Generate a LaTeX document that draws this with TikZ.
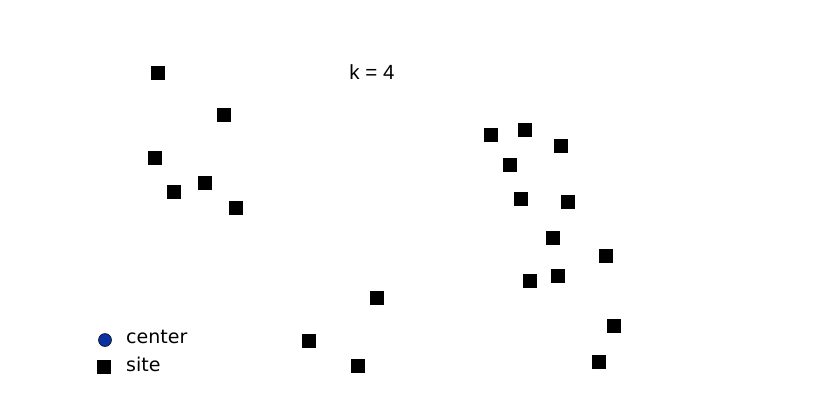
\documentclass[tikz,border=0pt]{standalone}
\usepackage{fontspec}
\setmainfont{DejaVu Sans}
\newfontfamily\titlefont{Liberation Sans}
\definecolor{cblue}{RGB}{10,50,160}
\begin{document}
\begin{tikzpicture}[x=1pt,y=-1pt,
  site/.style={fill=black,minimum size=14.5pt,inner sep=0pt,draw=none,rectangle},
  centre/.style={circle,fill=cblue,draw=black,line width=0.5pt,minimum size=13pt,inner sep=0pt},
  lbl/.style={font=\fontsize{19}{21}\selectfont,anchor=west,inner sep=0pt}]
\useasboundingbox (0,0) rectangle (832,410);
% title
\node[font=\titlefont\fontsize{20.5}{22}\selectfont,anchor=base,inner sep=0pt] (title) at (372,79) {k = 4};
% left cluster
\node[site] (s1) at (158,73) {};
\node[site] (s2) at (224,115) {};
\node[site] (s3) at (155,158) {};
\node[site] (s4) at (174,192) {};
\node[site] (s5) at (205,183) {};
\node[site] (s6) at (236,208) {};
% right cluster
\node[site] (s7) at (491,135) {};
\node[site] (s8) at (525,130) {};
\node[site] (s9) at (561,146) {};
\node[site] (s10) at (510,165) {};
\node[site] (s11) at (521,199) {};
\node[site] (s12) at (568,202) {};
\node[site] (s13) at (553,238) {};
\node[site] (s14) at (606,256) {};
\node[site] (s15) at (530,281) {};
\node[site] (s16) at (558,276) {};
\node[site] (s17) at (614,326) {};
\node[site] (s18) at (599,362) {};
% bottom middle
\node[site] (s19) at (377,298) {};
\node[site] (s20) at (309,341) {};
\node[site] (s21) at (358,366) {};
% legend
\node[centre] (lc) at (105,340) {};
\node[lbl] (lct) at (126,337) {center};
\node[site,minimum size=14pt] (ls) at (104,367) {};
\node[lbl] (lst) at (126,364) {site};
\end{tikzpicture}
\end{document}
